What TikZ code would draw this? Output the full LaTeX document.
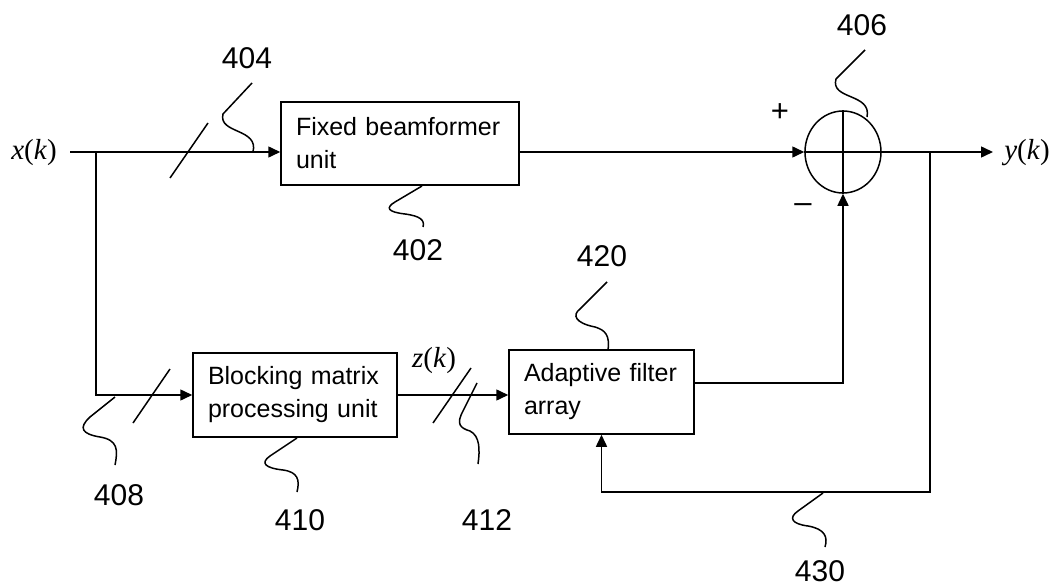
\documentclass[tikz,border=0pt]{standalone}
\usepackage{fontspec}
\setmainfont{Liberation Sans}
\newfontfamily\serifit{Liberation Serif}
\usetikzlibrary{arrows.meta,shapes.geometric}
\begin{document}
\begin{tikzpicture}[x=1pt,y=-1pt, line width=1.5pt,
  blk/.style={draw, rectangle, align=left, font=\fontsize{25}{33}\selectfont, inner xsep=15pt, inner ysep=0pt, anchor=center},
  lbl/.style={font=\fontsize{30}{36}\selectfont, inner sep=0pt},
  sgn/.style={font=\fontsize{31}{34}\selectfont, inner sep=0pt},
  sig/.style={font=\fontsize{29}{33}\selectfont\serifit, inner sep=0pt},
  arr/.style={-{Triangle[length=12pt,width=11pt]}},
  leader/.style={line width=1.5pt}]
\useasboundingbox (0,0) rectangle (1054,588);

% blocks
\node[blk, text width=208pt, minimum height=83pt] (fb) at (400,143.5) {Fixed beamformer\\unit};
\node[blk, text width=174pt, minimum height=84pt] (bm) at (295,395) {Blocking matrix\\processing unit};
\node[blk, text width=155pt, minimum height=84pt] (af) at (601.5,392) {Adaptive filter\\array};
\node[draw, ellipse, minimum width=76pt, minimum height=82pt, inner sep=0pt] (sum) at (843,152) {};
\draw (sum.north) -- (sum.south) (sum.west) -- (sum.east);

% signals
\node[sig] (xk) at (34,153) {\textit{x}(\textit{k})};
\node[sig] (yk) at (1027,153) {\textit{y}(\textit{k})};
\node[sig] (zk) at (434,361) {\textit{z}(\textit{k})};
\node[sgn] (plus) at (780,113) {+};
\node[sgn] (minus) at (803,208) {–};

\coordinate (in) at (70,152);
\coordinate (br) at (96,152);
\coordinate (out) at (993,152);
\coordinate (tap) at (930,152);
\coordinate (fbc) at (930,492);

% connectors
\draw[arr] (in) -- (in -| fb.west);
\draw[arr] (br) |- (bm.west);
\draw[arr] (sum.west -| fb.east) -- (sum.west);
\draw[arr] (sum.east) -- (out);
\draw[arr] (bm.east) -- (bm.east -| af.west);
\draw[arr] ([yshift=9pt]af.east) -| (sum.south);
\draw[arr] (tap) -- (fbc) -| (af.south);

% bus slashes
\draw (170,178) -- (208,123);
\draw (133,423) -- (170,369);
\draw (433,423) -- (471,368);

% reference labels
\node[lbl] (l404) at (247,58) {404};
\node[lbl] (l406) at (862,25) {406};
\node[lbl] (l402) at (418,250) {402};
\node[lbl] (l420) at (602,256) {420};
\node[lbl] (l408) at (119,495) {408};
\node[lbl] (l410) at (300,520) {410};
\node[lbl] (l412) at (487,520) {412};
\node[lbl] (l430) at (820,571) {430};

% leaders
\draw[leader] (253,152) .. controls (259,128) and (218,134) .. (223,114) -- (252,83);
\draw[leader] (867,117) .. controls (872,93) and (830,100) .. (836,79) -- (865,50);
\draw[leader] (422,186) -- (395,202) .. controls (385,208) and (388,212) .. (405,214) .. controls (420,216) and (425,220) .. (423,227);
\draw[leader] (608,350) .. controls (610,335) and (605,330) .. (595,327) .. controls (575,323) and (572,315) .. (580,309) -- (607,282);
\draw[leader] (115,397) -- (90,417) .. controls (78,428) and (82,434) .. (100,437) .. controls (118,440) and (118,450) .. (115,465);
\draw[leader] (297,438) -- (270,456) .. controls (260,463) and (265,468) .. (283,470) .. controls (298,472) and (300,480) .. (297,492);
\draw[leader] (477,383) -- (463,411) .. controls (456,424) and (460,428) .. (470,431) .. controls (480,436) and (480,450) .. (478,464);
\draw[leader] (823,493) -- (798,511) .. controls (788,518) and (792,524) .. (808,526) .. controls (825,529) and (828,537) .. (825,547);
\end{tikzpicture}
\end{document}
